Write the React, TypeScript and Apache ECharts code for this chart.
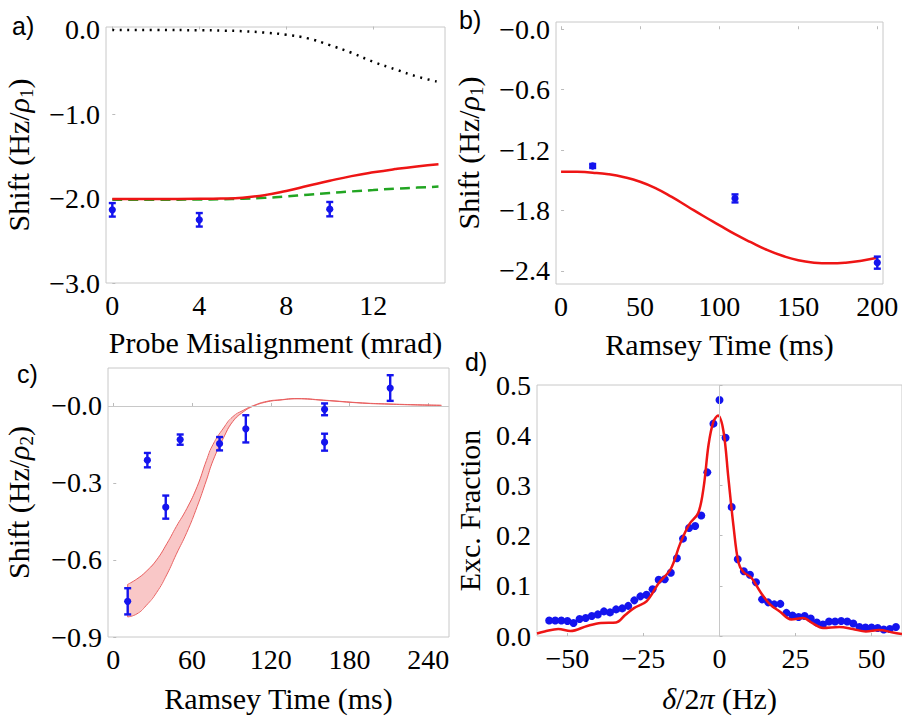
import React, { useEffect, useRef } from "react";
import * as echarts from "echarts";

// ---------- Panel a ----------
const aCurveX = [0, 2, 4, 5, 6, 7, 8, 9, 10, 11, 12, 13, 14, 15];
const aRed = [-2.005, -2.005, -2.003, -2.0, -1.99, -1.96, -1.91, -1.85, -1.79, -1.735, -1.69, -1.652, -1.62, -1.595];
const aGreen = [-2.016, -2.015, -2.012, -2.009, -2.003, -1.992, -1.975, -1.955, -1.934, -1.916, -1.9, -1.884, -1.871, -1.859];
const aDotted = [-0.005, -0.006, -0.008, -0.012, -0.02, -0.036, -0.062, -0.105, -0.185, -0.275, -0.382, -0.47, -0.555, -0.62];
const aPtX = [0, 4, 10];
const aPtY = [-2.134, -2.252, -2.126];
const aPtErr = [0.08, 0.08, 0.085];
const aXTicks = [0, 4, 8, 12];
const aYTicks = [-3, -2, -1, 0];

// ---------- Panel b ----------
const bCurveX = [0, 10, 20, 30, 40, 50, 60, 70, 80, 90, 100, 110, 120, 130, 140, 150, 160, 170, 180, 190, 200];
const bRed = [-1.414, -1.416, -1.424, -1.44, -1.47, -1.515, -1.58, -1.665, -1.76, -1.855, -1.945, -2.035, -2.115, -2.19, -2.25, -2.295, -2.318, -2.325, -2.318, -2.298, -2.27];
const bPtX = [20, 110, 200];
const bPtY = [-1.358, -1.68, -2.318];
const bPtErr = [0.02, 0.04, 0.06];
const bXTicks = [0, 50, 100, 150, 200];
const bYTicks = [-2.4, -1.8, -1.2, -0.6, 0];

// ---------- Panel c ----------
const cBandX = [11, 18, 25, 33, 41, 48, 56, 64, 71, 76, 84, 91, 99, 107, 117, 127, 140, 160, 190, 210, 230, 250];
const cUpper = [-0.695, -0.674, -0.645, -0.6, -0.535, -0.47, -0.4, -0.313, -0.212, -0.15, -0.086, -0.042, -0.017, 0.002, 0.018, 0.024, 0.029, 0.023, 0.012, 0.008, 0.005, 0.003];
const cLower = [-0.822, -0.81, -0.778, -0.727, -0.655, -0.578, -0.493, -0.391, -0.289, -0.213, -0.124, -0.061, -0.023, 0.0, 0.016, 0.023, 0.028, 0.022, 0.011, 0.007, 0.004, 0.002];
const cPtX = [11, 26, 40, 51, 81, 101, 161, 161, 211];
const cPtY = [-0.761, -0.211, -0.394, -0.131, -0.147, -0.089, -0.013, -0.141, 0.07];
const cPtErr = [0.051, 0.028, 0.045, 0.02, 0.026, 0.053, 0.023, 0.033, 0.05];
const cXTicks = [0, 60, 120, 180, 240];
const cYTicks = [-0.9, -0.6, -0.3, 0];

// ---------- Panel d ----------
const dX = [-56, -54, -52, -50, -48, -46, -44, -42, -40, -38, -36, -34, -32, -30, -28, -26, -24, -22, -20, -18, -16, -14, -12, -10, -8, -6, -4, -2, 0,
  2, 4, 6, 8, 10, 12, 14, 16, 18, 20, 22, 24, 26, 28, 30, 32, 34, 36, 38, 40, 42, 44, 46, 48, 50, 52, 54, 56, 58];
const dY = [0.031, 0.031, 0.031, 0.03, 0.026, 0.034, 0.036, 0.04, 0.043, 0.049, 0.047, 0.053, 0.055, 0.06, 0.071, 0.079, 0.082, 0.093, 0.112, 0.113, 0.126, 0.155, 0.194, 0.215, 0.219, 0.24, 0.326, 0.423, 0.47,
  0.395, 0.257, 0.153, 0.129, 0.122, 0.107, 0.073, 0.067, 0.063, 0.064, 0.046, 0.041, 0.038, 0.04, 0.035, 0.027, 0.023, 0.029, 0.029, 0.03, 0.029, 0.025, 0.018, 0.017, 0.017, 0.016, 0.013, 0.014, 0.018];
const dFitX = [-60, -57.5, -53, -49, -43.5, -39, -34, -31, -28, -24, -20, -16, -13, -10, -7, -5.2, -3.6, -2, -0.5, 1.3, 2.9, 4.6, 6.2, 7.8, 10.6, 13.3, 16.6, 19.8, 23.6, 27.5, 30.7, 34, 39.4, 43.8, 48.1, 52.5, 57, 60];
const dFit = [0.005, 0.009, 0.014, 0.01, 0.02, 0.026, 0.027, 0.042, 0.056, 0.069, 0.105, 0.134, 0.183, 0.222, 0.245, 0.297, 0.381, 0.427, 0.439, 0.408, 0.316, 0.219, 0.147, 0.128, 0.115, 0.089, 0.063, 0.049, 0.033, 0.036, 0.025, 0.016, 0.018, 0.014, 0.009, 0.012, 0.007, 0.004];
const dXTicks = [-50, -25, 0, 25, 50];
const dYTicks = [0, 0.1, 0.2, 0.3, 0.4, 0.5];

const FONT = "Liberation Serif";
const BLUE = "#1414ee";
const RED = "#ee1515";
const GREEN = "#22a522";
const FRAME = "#c8c8c8";
const NAME_SIZE = 30;

const zip = (xs: number[], ys: number[]) => xs.map((x, i) => [x, ys[i]]);
const zip3 = (xs: number[], ys: number[], es: number[]) => xs.map((x, i) => [x, ys[i], es[i]]);

const fmtSigned = (v: number) => (v < 0 ? "\u2212" : "") + Math.abs(v).toFixed(1);
const fmtNeg = (v: number) => "\u2212" + Math.abs(v).toFixed(1);
const fmtInt = (v: number) => (v < 0 ? "\u2212" : "") + Math.abs(Math.round(v)).toString();

const richName = {
  i: { fontFamily: FONT, fontSize: NAME_SIZE, fontStyle: "italic", color: "#000", lineHeight: 35 },
  s: { fontFamily: FONT, fontSize: 19, color: "#000", verticalAlign: "bottom", lineHeight: 19 },
};

function xAxis(idx: number, min: number, max: number, ticks: number[], name: string, nameGap: number) {
  return {
    type: "value",
    gridIndex: idx,
    min,
    max,
    name,
    nameLocation: "middle",
    nameGap,
    nameTextStyle: { fontFamily: FONT, fontSize: NAME_SIZE, color: "#000", lineHeight: 35, rich: richName },
    axisLine: { show: false },
    splitLine: { show: false },
    axisTick: { show: true, inside: true, length: 3, customValues: ticks, lineStyle: { color: "#bbb" } },
    axisLabel: {
      customValues: ticks,
      formatter: fmtInt,
      fontFamily: FONT,
      fontSize: 28,
      color: "#000",
      margin: 8,
      showMinLabel: true,
      showMaxLabel: true,
    },
  };
}

function yAxis(idx: number, min: number, max: number, ticks: number[], fmt: (v: number) => string, name: string, nameGap: number) {
  return {
    type: "value",
    gridIndex: idx,
    min,
    max,
    name,
    nameLocation: "middle",
    nameGap,
    nameTextStyle: { fontFamily: FONT, fontSize: NAME_SIZE, color: "#000", lineHeight: 35, rich: richName },
    axisLine: { show: false },
    splitLine: { show: false },
    axisTick: { show: true, inside: true, length: 3, customValues: ticks, lineStyle: { color: "#bbb" } },
    axisLabel: {
      customValues: ticks,
      formatter: fmt,
      fontFamily: FONT,
      fontSize: 28,
      color: "#000",
      margin: 6,
      showMinLabel: true,
      showMaxLabel: true,
    },
  };
}

function errorSeries(idx: number, data: number[][]) {
  return {
    type: "custom",
    xAxisIndex: idx,
    yAxisIndex: idx,
    z: 5,
    data,
    encode: { x: 0, y: 1 },
    renderItem: (_params: any, api: any) => {
      const x = api.value(0);
      const y = api.value(1);
      const e = api.value(2);
      const c = api.coord([x, y]);
      const t = api.coord([x, y + e]);
      const b = api.coord([x, y - e]);
      const st = { stroke: BLUE, lineWidth: 2.4 };
      return {
        type: "group",
        children: [
          { type: "line", shape: { x1: c[0], y1: t[1], x2: c[0], y2: b[1] }, style: st },
          { type: "line", shape: { x1: c[0] - 3.5, y1: t[1], x2: c[0] + 3.5, y2: t[1] }, style: st },
          { type: "line", shape: { x1: c[0] - 3.5, y1: b[1], x2: c[0] + 3.5, y2: b[1] }, style: st },
          { type: "circle", shape: { cx: c[0], cy: c[1], r: 3.6 }, style: { fill: BLUE } },
        ],
      };
    },
  };
}

const panelLabel = (text: string, left: number, top: number) => ({
  type: "text",
  left,
  top,
  style: { text, font: "25px Liberation Sans", fill: "#000" },
});

export default function App() {
  const ref = useRef<HTMLDivElement>(null);
  useEffect(() => {
    if (!ref.current) return;
    const chart = echarts.init(ref.current, null, { renderer: "svg" });
    const option: any = {
      animation: false,
      backgroundColor: "#fff",
      textStyle: { fontFamily: FONT },
      grid: [
        { left: 106, top: 27, width: 339, height: 256, show: true, borderColor: FRAME, borderWidth: 1 },
        { left: 556, top: 22, width: 327, height: 262, show: true, borderColor: FRAME, borderWidth: 1 },
        { left: 108, top: 368, width: 341, height: 275, show: true, borderColor: FRAME, borderWidth: 1 },
        { left: 537, top: 385, width: 367, height: 257, show: true, borderColor: FRAME, borderWidth: 1 },
      ],
      xAxis: [
        xAxis(0, -0.29, 15.3, aXTicks, "Probe Misalignment (mrad)", 42),
        xAxis(1, -3.2, 203.6, bXTicks, "Ramsey Time (ms)", 43),
        xAxis(2, -4.0, 255.8, cXTicks, "Ramsey Time (ms)", 44),
        xAxis(3, -60, 60, dXTicks, "{i|δ}/2{i|π} (Hz)", 45),
      ],
      yAxis: [
        yAxis(0, -3.0, 0.03, aYTicks, fmtSigned, "Shift (Hz/{i|ρ}{s|1})", 70),
        yAxis(1, -2.53, 0.072, bYTicks, fmtNeg, "Shift (Hz/{i|ρ}{s|1})", 70),
        yAxis(2, -0.9, 0.148, cYTicks, fmtNeg, "Shift (Hz/{i|ρ}{s|2})", 72),
        yAxis(3, 0, 0.5, dYTicks, (v: number) => v.toFixed(1), "Exc. Fraction", 50),
      ],
      graphic: [
        panelLabel("a)", 12, 13),
        panelLabel("b)", 459, 7),
        panelLabel("c)", 17, 361),
        panelLabel("d)", 465, 349),
      ],
      series: [
        // Panel a
        {
          type: "line", xAxisIndex: 0, yAxisIndex: 0, data: zip(aCurveX, aDotted), smooth: true, showSymbol: false,
          lineStyle: { color: "#000", width: 2.5, type: [2, 5.5] },
        },
        {
          type: "line", xAxisIndex: 0, yAxisIndex: 0, data: zip(aCurveX, aGreen), smooth: true, showSymbol: false,
          lineStyle: { color: GREEN, width: 2.5, type: [10, 6] },
        },
        {
          type: "line", xAxisIndex: 0, yAxisIndex: 0, data: zip(aCurveX, aRed), smooth: true, showSymbol: false,
          lineStyle: { color: RED, width: 2.5 },
        },
        errorSeries(0, zip3(aPtX, aPtY, aPtErr)),
        // Panel b
        {
          type: "line", xAxisIndex: 1, yAxisIndex: 1, data: zip(bCurveX, bRed), smooth: true, showSymbol: false,
          lineStyle: { color: RED, width: 2.5 },
        },
        errorSeries(1, zip3(bPtX, bPtY, bPtErr)),
        // Panel c
        {
          type: "line", xAxisIndex: 2, yAxisIndex: 2, data: [], showSymbol: false,
          markLine: {
            silent: true, symbol: "none", label: { show: false },
            lineStyle: { color: FRAME, type: "solid", width: 1 },
            data: [{ yAxis: 0 }],
          },
        },
        {
          type: "custom",
          xAxisIndex: 2,
          yAxisIndex: 2,
          z: 2,
          data: [[cBandX[0], cUpper[0]]],
          encode: { x: 0, y: 1 },
          renderItem: (_p: any, api: any) => {
            const up = cBandX.map((x, i) => api.coord([x, cUpper[i]]));
            const lo = cBandX.map((x, i) => api.coord([x, cLower[i]])).reverse();
            return {
              type: "polygon",
              shape: { points: up.concat(lo) },
              style: { fill: "rgba(238,95,95,0.35)", stroke: "none" },
            };
          },
        },
        {
          type: "line", xAxisIndex: 2, yAxisIndex: 2, data: zip(cBandX, cUpper), smooth: true, showSymbol: false, z: 3,
          lineStyle: { color: "#e86060", width: 1 },
        },
        {
          type: "line", xAxisIndex: 2, yAxisIndex: 2, data: zip(cBandX, cLower), smooth: true, showSymbol: false, z: 3,
          lineStyle: { color: "#e86060", width: 1 },
        },
        {
          type: "line", xAxisIndex: 2, yAxisIndex: 2, data: [[cBandX[0], cUpper[0]], [cBandX[0], cLower[0]]], showSymbol: false, z: 3,
          lineStyle: { color: "#e86060", width: 1 },
        },
        errorSeries(2, zip3(cPtX, cPtY, cPtErr)),
        // Panel d
        {
          type: "line", xAxisIndex: 3, yAxisIndex: 3, data: [], showSymbol: false,
          markLine: {
            silent: true, symbol: "none", label: { show: false },
            lineStyle: { color: FRAME, type: "solid", width: 1 },
            data: [{ xAxis: 0 }],
          },
        },
        {
          type: "scatter", xAxisIndex: 3, yAxisIndex: 3, data: zip(dX, dY), symbolSize: 8,
          itemStyle: { color: BLUE, opacity: 1 },
        },
        {
          type: "line", xAxisIndex: 3, yAxisIndex: 3, data: zip(dFitX, dFit), smooth: 0.35, showSymbol: false,
          lineStyle: { color: RED, width: 2.5 }, z: 4,
        },
      ],
    };
    chart.setOption(option);
    return () => chart.dispose();
  }, []);
  return (
    <div
      ref={ref}
      style={{ position: "absolute", left: 0, top: 0, width: 902, height: 717, background: "#fff" }}
    />
  );
}
